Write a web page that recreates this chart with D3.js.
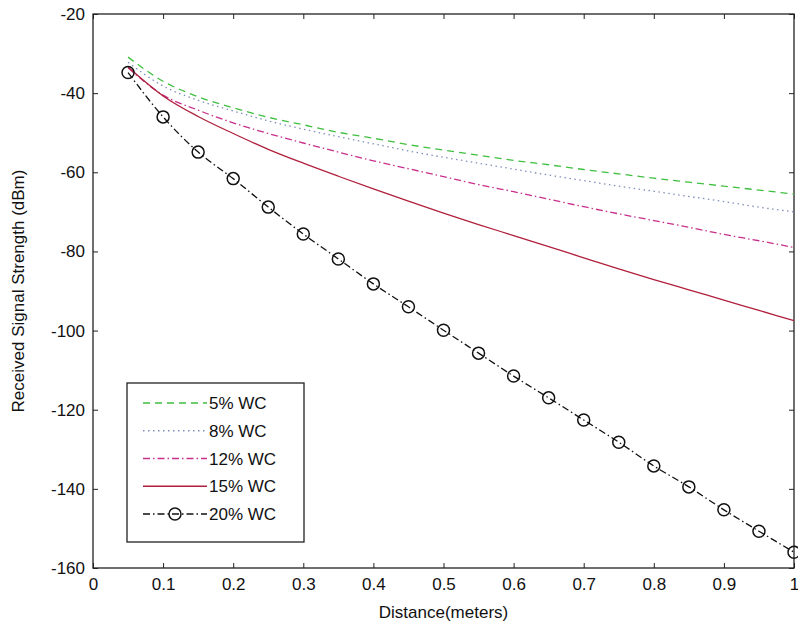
<!DOCTYPE html>
<html>
<head>
<meta charset="utf-8">
<script src="https://cdn.jsdelivr.net/npm/d3@7"></script>
<style>
  body { margin: 0; background: #fff; }
  text { font-family: "Liberation Sans", Arial, sans-serif; fill: #111; }
</style>
</head>
<body>
<svg width="798" height="630"></svg>
<script>
// distances (m) where each curve is sampled
var distance = [0.05, 0.10, 0.15, 0.20, 0.25, 0.30, 0.35, 0.40, 0.45, 0.50,
                0.55, 0.60, 0.65, 0.70, 0.75, 0.80, 0.85, 0.90, 0.95, 1.00];
// received signal strength (dBm)
var wc5  = [-30.9, -37.0, -40.9, -43.7, -46.1, -48.0, -49.9, -51.4, -53.0, -54.4,
            -55.7, -57.0, -58.1, -59.3, -60.4, -61.5, -62.5, -63.5, -64.5, -65.5];
var wc8  = [-32.2, -38.2, -41.8, -44.5, -47.0, -49.1, -51.0, -52.8, -54.6, -56.2,
            -57.7, -59.2, -60.7, -62.1, -63.5, -64.8, -66.1, -67.4, -68.8, -70.0];
var wc12 = [-33.6, -40.5, -44.3, -47.5, -50.2, -52.6, -54.9, -57.1, -59.1, -61.1,
            -63.1, -64.9, -66.8, -68.7, -70.5, -72.2, -73.9, -75.7, -77.3, -79.0];
var wc15 = [-33.4, -40.7, -45.9, -50.2, -54.2, -57.7, -61.0, -64.2, -67.3, -70.3,
            -73.2, -76.0, -78.8, -81.6, -84.4, -87.1, -89.7, -92.3, -94.9, -97.5];
var wc20 = [-34.8, -46.0, -54.9, -61.6, -68.8, -75.6, -81.9, -88.2, -94.0, -99.9,
            -105.7, -111.5, -117.0, -122.6, -128.2, -134.2, -139.5, -145.3, -150.7, -156.0];
var seriesNames = ["5% WC", "8% WC", "12% WC", "15% WC", "20% WC"];
var xTicks = [0, 0.1, 0.2, 0.3, 0.4, 0.5, 0.6, 0.7, 0.8, 0.9, 1];
var yTicks = [-160, -140, -120, -100, -80, -60, -40, -20];

var styles = [
  {color: "#3fbf3f", dash: "7,5", marker: false},
  {color: "#7f8fb8", dash: "1.5,3.5", marker: false},
  {color: "#c8308c", dash: "7,3,1.5,3", marker: false},
  {color: "#b0203c", dash: null, marker: false},
  {color: "#111111", dash: "7,3,1.5,3", marker: true}
];
var allSeries = [wc5, wc8, wc12, wc15, wc20];

var svg = d3.select("svg");
var padL = 93, padR = 794, padT = 14, padB = 568;

var x = d3.scaleLinear().domain([0, 1]).range([padL, padR]);
var y = d3.scaleLinear().domain([-160, -20]).range([padB, padT]);

// plain hyphen for negatives, like the original
var tickFmt = function(d) { return String(d); };

// axes with inward ticks on all four sides
svg.append("g").attr("transform", "translate(0," + padB + ")")
  .call(d3.axisBottom(x).tickValues(xTicks).tickSizeInner(-5).tickSizeOuter(0).tickPadding(10).tickFormat(tickFmt))
  .call(g => g.select(".domain").remove());
svg.append("g").attr("transform", "translate(0," + padT + ")")
  .call(d3.axisTop(x).tickValues(xTicks).tickSizeInner(-5).tickSizeOuter(0).tickFormat(""))
  .call(g => g.select(".domain").remove());
svg.append("g").attr("transform", "translate(" + padL + ",0)")
  .call(d3.axisLeft(y).tickValues(yTicks).tickSizeInner(-5).tickSizeOuter(0).tickPadding(8).tickFormat(tickFmt))
  .call(g => g.select(".domain").remove());
svg.append("g").attr("transform", "translate(" + padR + ",0)")
  .call(d3.axisRight(y).tickValues(yTicks).tickSizeInner(-5).tickSizeOuter(0).tickFormat(""))
  .call(g => g.select(".domain").remove());

svg.selectAll(".tick line").attr("stroke", "#222");
svg.selectAll(".tick text").style("font-size", "17px").attr("fill", "#111")
  .style("font-family", "'Liberation Sans', Arial, sans-serif");

svg.append("rect")
  .attr("x", padL).attr("y", padT)
  .attr("width", padR - padL).attr("height", padB - padT)
  .attr("fill", "none").attr("stroke", "#222").attr("stroke-width", 1.3);

// curves
var line = d3.line().x((d, i) => x(distance[i])).y(d => y(d)).curve(d3.curveMonotoneX);

allSeries.forEach(function(s, k) {
  var st = styles[k];
  svg.append("path")
    .datum(s)
    .attr("d", line)
    .attr("fill", "none")
    .attr("stroke", st.color)
    .attr("stroke-width", 1.3)
    .attr("stroke-dasharray", st.dash);
  if (st.marker) {
    svg.selectAll(".mk").data(s).enter().append("circle")
      .attr("class", "mk")
      .attr("cx", (d, i) => x(distance[i]))
      .attr("cy", d => y(d))
      .attr("r", 6)
      .attr("fill", "none")
      .attr("stroke", st.color)
      .attr("stroke-width", 1.5);
  }
});

// axis labels
svg.append("text")
  .attr("x", (padL + padR) / 2).attr("y", 618)
  .attr("text-anchor", "middle").style("font-size", "17px")
  .text("Distance(meters)");
svg.append("text")
  .attr("transform", "translate(24," + (padT + padB) / 2 + ") rotate(-90)")
  .attr("text-anchor", "middle").style("font-size", "17px")
  .text("Received Signal Strength (dBm)");

// legend
var lg = svg.append("g");
lg.append("rect")
  .attr("x", 127).attr("y", 383).attr("width", 177).attr("height", 159)
  .attr("fill", "#fff").attr("stroke", "#222").attr("stroke-width", 1.3);
var rowY = d3.scalePoint().domain(seriesNames).range([403, 514]);
seriesNames.forEach(function(name, k) {
  var st = styles[k];
  var yy = rowY(name);
  lg.append("line")
    .attr("x1", 143).attr("x2", 207).attr("y1", yy).attr("y2", yy)
    .attr("stroke", st.color).attr("stroke-width", 1.3)
    .attr("stroke-dasharray", st.dash);
  if (st.marker) {
    lg.append("circle").attr("cx", 175).attr("cy", yy).attr("r", 6)
      .attr("fill", "none").attr("stroke", st.color).attr("stroke-width", 1.5);
  }
  lg.append("text")
    .attr("x", 209).attr("y", yy + 6)
    .style("font-size", "17px")
    .text(name);
});
</script>
</body>
</html>
